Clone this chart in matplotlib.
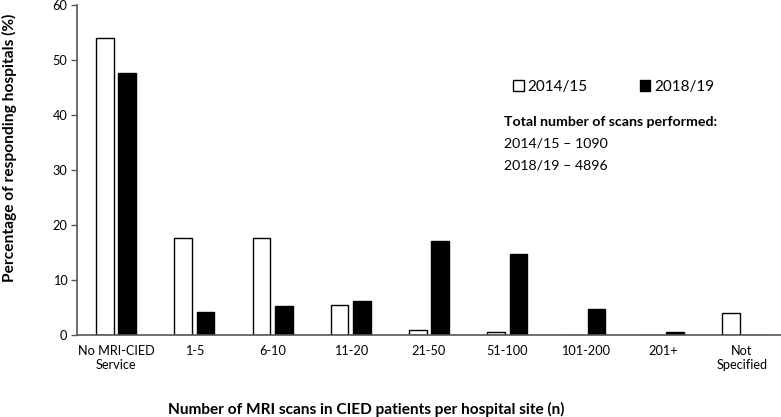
import matplotlib
matplotlib.use("Agg")
import matplotlib.pyplot as plt
import numpy as np
from matplotlib.patches import Patch

plt.rcParams['font.family'] = ['Lato', 'DejaVu Sans']

categories = ["No MRI-CIED\nService", "1-5", "6-10", "11-20", "21-50", "51-100",
              "101-200", "201+", "Not\nSpecified"]
values_2014 = [54.0, 17.6, 17.6, 5.4, 1.0, 0.5, 0.0, 0.0, 4.0]
values_2018 = [47.7, 4.2, 5.3, 6.2, 17.1, 14.7, 4.8, 0.5, 0.0]
yticks = [0, 10, 20, 30, 40, 50, 60]

W, H = 781, 417
fig = plt.figure(figsize=(W/100, H/100), dpi=100)
ax = fig.add_axes([77/W, 1-335/H, 1-77/W, 330/H])

x = np.arange(len(categories))
bw = 0.226
off = 0.143
ax.bar(x - off, values_2014, bw, facecolor='white', edgecolor='black', linewidth=1.0)
ax.bar(x + off, values_2018, bw, facecolor='black', edgecolor='black', linewidth=1.0)

ax.set_xlim(-0.5, 8.5)
ax.set_ylim(0, 60)
ax.set_yticks(yticks)
ax.set_xticks(x)
ax.set_xticklabels(categories, fontsize=9.2, linespacing=1.25)
ax.tick_params(axis='x', length=0, pad=7)
ax.tick_params(axis='y', labelsize=9.2, length=4, width=1, color='#555555', pad=3)
for s in ['top', 'right']:
    ax.spines[s].set_visible(False)
for s in ['left', 'bottom']:
    ax.spines[s].set_color('#555555')
    ax.spines[s].set_linewidth(1.2)

fig.text(9/W, 1-148/H, "Percentage of responding hospitals (%)", rotation=90,
         fontsize=11.2, fontweight='bold', ha='center', va='center')
fig.text(366/W, 1-409/H, "Number of MRI scans in CIED patients per hospital site (n)",
         fontsize=11.1, fontweight='bold', ha='center', va='center')

handles = [Patch(facecolor='white', edgecolor='black', label='2014/15'),
           Patch(facecolor='black', edgecolor='black', label='2018/19')]
fig.legend(handles=handles, loc='center left', bbox_to_anchor=(513/W, 1-87/H),
           ncol=2, frameon=False, fontsize=11, handlelength=0.7, handleheight=0.7,
           handletextpad=0.25, columnspacing=3.4, borderaxespad=0, borderpad=0)

fig.text(504/W, 1-122/H, "Total number of scans performed:", fontsize=10.2,
         fontweight='bold', ha='left', va='center')
fig.text(504/W, 1-143/H, "2014/15 \u2013 1090", fontsize=10.2, ha='left', va='center')
fig.text(504/W, 1-165/H, "2018/19 \u2013 4896", fontsize=10.2, ha='left', va='center')

fig.savefig("out.png", dpi=100)
